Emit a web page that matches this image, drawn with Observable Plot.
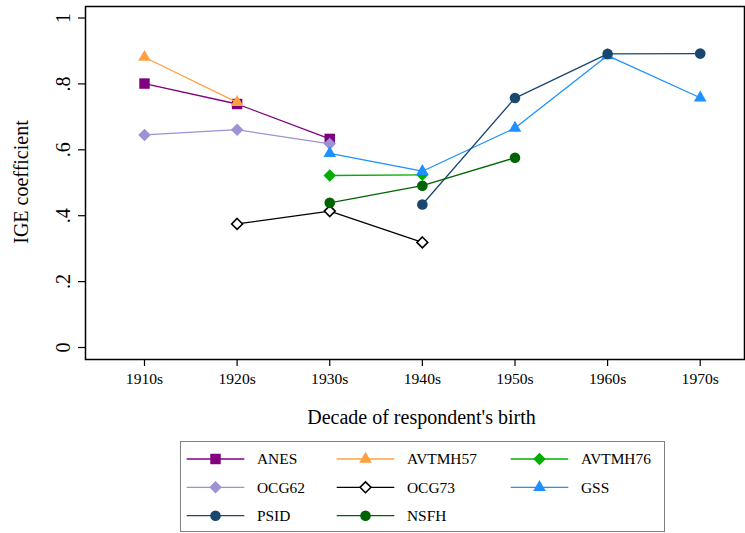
<!DOCTYPE html>
<html><head><meta charset="utf-8">
<script src="https://cdn.jsdelivr.net/npm/d3@7"></script>
<script src="https://cdn.jsdelivr.net/npm/@observablehq/plot@0.6"></script>
<style>
body{margin:0;background:#fff;font-family:"Liberation Serif","Times New Roman",serif;}
#wrap{position:relative;width:745px;height:533px;overflow:hidden;background:#fff;}
#chart{position:absolute;left:0;top:0;}
#ylab{position:absolute;left:21px;top:181.5px;transform:translate(-50%,-50%) rotate(-90deg);font-size:20px;line-height:20px;white-space:nowrap;color:#000;}
#xlab{position:absolute;left:421.5px;top:407px;transform:translateX(-50%);font-size:20px;line-height:20px;white-space:nowrap;color:#000;}
#legend{position:absolute;left:180px;top:441px;width:485px;height:91px;border:1px solid #808080;box-sizing:border-box;}
#legend svg{position:absolute;left:-1px;top:-1px;}
</style></head>
<body>
<div id="wrap">
  <div id="chart"></div>
  <div id="ylab">IGE coefficient</div>
  <div id="xlab">Decade of respondent's birth</div>
  <div id="legend"></div>
</div>
<script>
// ---- data ----
const decades = [1910, 1920, 1930, 1940, 1950, 1960, 1970];
const yTicks = [0, 0.2, 0.4, 0.6, 0.8, 1];
const seriesNames = ["ANES", "AVTMH57", "AVTMH76", "OCG62", "OCG73", "GSS", "PSID", "NSFH"];
const anes    = [0.801, 0.739, 0.633, null, null, null, null];
const avtmh57 = [0.881, 0.744, null, null, null, null, null];
const avtmh76 = [null, null, 0.522, 0.524, null, null, null];
const ocg62   = [0.645, 0.661, 0.618, null, null, null, null];
const ocg73   = [null, 0.375, 0.414, 0.319, null, null, null];
const gss     = [null, null, 0.589, 0.535, 0.666, 0.886, 0.758];
const psid    = [null, null, null, 0.434, 0.757, 0.891, 0.892];
const nsfh    = [null, null, 0.439, 0.491, 0.576, null, null];
const seriesValues = [anes, avtmh57, avtmh76, ocg62, ocg73, gss, psid, nsfh];

// ---- styles ----
const seriesColors  = ["#800080", "#ffa040", "#00b000", "#9b93d3", "#000000", "#1e90ff", "#1a476f", "#006400"];
const seriesSymbols = ["square", "triangle", "diamond2", "diamond2", "diamond2", "triangle", "circle", "circle"];
const seriesR       = [5.9, 4.7, 5.6, 5.6, 4.9, 4.7, 5.3, 5.3];
const seriesHollow  = [false, false, false, false, true, false, false, false];

const marks = [];
seriesNames.forEach((name, i) => {
  const data = decades.map((d, j) => ({decade: d, value: seriesValues[i][j]})).filter(d => d.value != null);
  marks.push(Plot.line(data, {x: "decade", y: "value", stroke: seriesColors[i], strokeWidth: 1.3}));
  marks.push(Plot.dot(data, {
    x: "decade", y: "value", symbol: seriesSymbols[i], r: seriesR[i],
    fill: seriesHollow[i] ? "#fff" : seriesColors[i],
    stroke: seriesHollow[i] ? seriesColors[i] : "none",
    strokeWidth: seriesHollow[i] ? 1.6 : 0
  }));
});

const fmtY = d => d === 0 ? "0" : d === 1 ? "1" : String(d).replace(/^0/, "");
const FONT = "'Liberation Serif','Times New Roman',serif";

const chart = Plot.plot({
  width: 745, height: 430,
  marginLeft: 85, marginRight: 1, marginTop: 6, marginBottom: 71,
  style: {fontFamily: FONT, fontSize: "15.6px", color: "#000", background: "#fff"},
  x: {type: "linear", domain: [1903.63, 1974.78]},
  y: {domain: [-0.0364, 1.0349]},
  marks: [
    ...marks,
    Plot.frame({stroke: "#000", strokeWidth: 1.5}),
    Plot.axisX({ticks: decades, tickFormat: d => d + "s", tickSize: 7, tickPadding: 6, label: null,
      stroke: "#000", strokeWidth: 1.2, fontSize: 15.6, fontFamily: FONT, fill: "#000"}),
    Plot.axisY({ticks: yTicks, tickFormat: () => "", tickSize: 7, label: null,
      stroke: "#000", strokeWidth: 1.2}),
    Plot.text(yTicks, {y: d => d, text: fmtY, frameAnchor: "left", dx: -16, rotate: -90,
      textAnchor: "middle", lineAnchor: "bottom", fontSize: 20, fontFamily: FONT, fill: "#000"})
  ]
});
document.getElementById("chart").appendChild(chart);

// ---- legend ----
const colX = [6.7, 156.7, 330.7];   // line start within legend box
const rowY = [18, 46.3, 74.7];
const leg = d3.select("#legend").append("svg").attr("width", 485).attr("height", 91)
  .style("font-family", FONT).style("font-size", "15.4px");
const symMap = {square: d3.symbolSquare, triangle: d3.symbolTriangle, diamond2: d3.symbolDiamond2, circle: d3.symbolCircle};
seriesNames.forEach((name, i) => {
  const cx = colX[i % 3], cy = rowY[Math.floor(i / 3)];
  const g = leg.append("g").attr("transform", `translate(${cx},${cy})`);
  g.append("line").attr("x1", 0).attr("x2", 57.6).attr("y1", 0).attr("y2", 0)
    .attr("stroke", seriesColors[i]).attr("stroke-width", 1.3);
  g.append("path").attr("transform", "translate(28.8,0)")
    .attr("d", d3.symbol(symMap[seriesSymbols[i]], Math.PI * seriesR[i] * seriesR[i])())
    .attr("fill", seriesHollow[i] ? "#fff" : seriesColors[i])
    .attr("stroke", seriesHollow[i] ? seriesColors[i] : "none")
    .attr("stroke-width", seriesHollow[i] ? 1.6 : 0);
  g.append("text").attr("x", 70.3).attr("dy", "0.35em").attr("fill", "#000").text(name);
});
</script>
</body></html>
